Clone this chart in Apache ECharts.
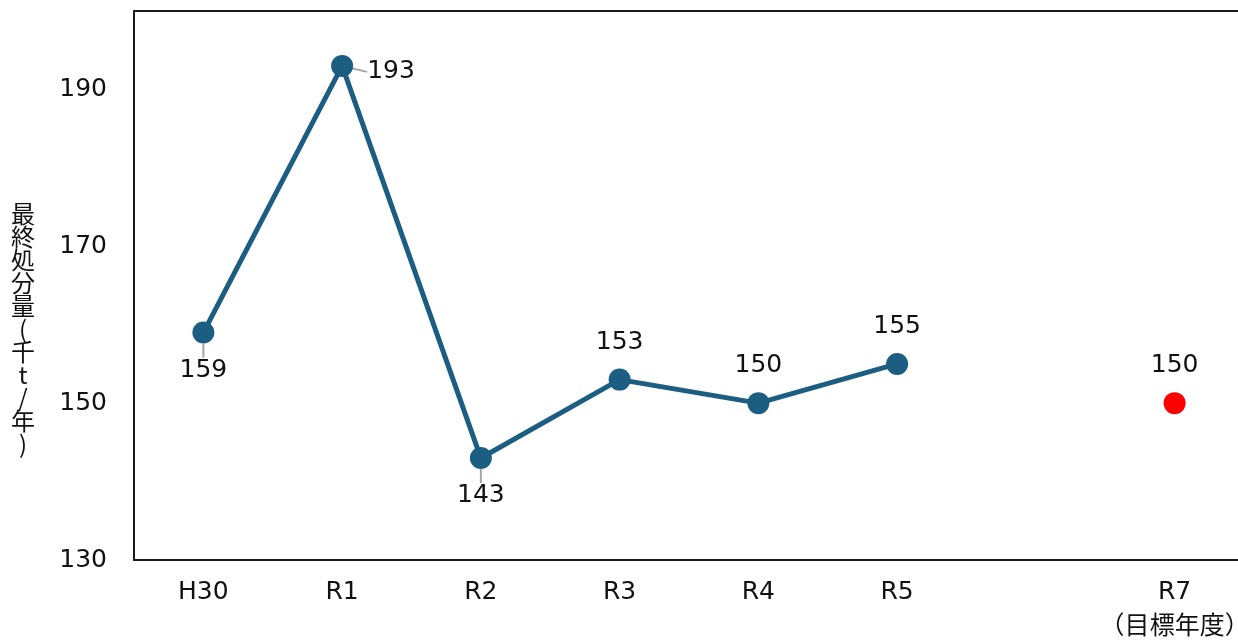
<!DOCTYPE html>
<html>
<head>
<meta charset="utf-8">
<script src="https://cdn.jsdelivr.net/npm/echarts@6/dist/echarts.min.js"></script>
<style>
  html, body { margin: 0; padding: 0; background: #fff; }
  #chart { width: 1238px; height: 641px; }
</style>
</head>
<body>
<div id="chart"></div>
<script>
// Years on the x axis; R6 is left empty so R7 sits two slots after R5
const categories = ['H30', 'R1', 'R2', 'R3', 'R4', 'R5', 'R6', 'R7\n（目標年度）'];
// Final disposal amount (thousand t / year)
const actualValues = [159, 193, 143, 153, 150, 155, null, null];
// Target for R7
const targetValues = [null, null, null, null, null, null, null, 150];
const yTicks = { min: 130, max: 200, interval: 20 };
const yName = '最終処分量(千t/年)';

const FONT = '"DejaVu Sans", "Noto Sans CJK JP", sans-serif';
const CJK_FONT = '"Noto Sans CJK JP", sans-serif';

// Label placement per point: below, right or above
const labelPlacement = ['bottom', 'right', 'bottom', 'top', 'top', 'top', 'top', 'top'];
// Points whose labels get a short leader line
const withLeader = [true, true, true, false, false, false, false, false];

const chart = echarts.init(document.getElementById('chart'), null, { renderer: 'canvas' });

chart.setOption({
  animation: false,
  backgroundColor: '#ffffff',
  grid: {
    left: 134, right: -6, top: 11, bottom: 81,
    show: false,
    outerBoundsMode: 'none',
    containLabel: false
  },
  graphic: [{
    type: 'text',
    x: 23,
    y: 202,
    style: {
      text: yName.split('').join('\n'),
      font: '24px ' + CJK_FONT,
      lineHeight: 23,
      fill: '#111',
      align: 'center',
      verticalAlign: 'top'
    }
  }],
  xAxis: [{
    type: 'category',
    data: categories,
    boundaryGap: true,
    axisLine: { show: true, lineStyle: { color: '#1a1a1a', width: 2 } },
    axisTick: { show: false },
    axisLabel: {
      interval: 0,
      margin: 15,
      color: '#111',
      fontSize: 25,
      fontFamily: FONT,
      lineHeight: 35,
      hideOverlap: false,
      formatter: v => (v === 'R6' ? '' : v)
    }
  }, {
    // top border of the plot frame
    type: 'category',
    position: 'top',
    data: categories,
    axisLine: { show: true, lineStyle: { color: '#1a1a1a', width: 2 } },
    axisTick: { show: false },
    axisLabel: { show: false }
  }],
  yAxis: {
    type: 'value',
    min: yTicks.min,
    max: yTicks.max,
    interval: yTicks.interval,
    splitLine: { show: false },
    axisLine: { show: true, lineStyle: { color: '#1a1a1a', width: 2 } },
    axisTick: { show: false },
    axisLabel: {
      showMaxLabel: false,
      margin: 27,
      color: '#111',
      fontSize: 25,
      fontFamily: FONT
    }
  },
  series: [
    {
      type: 'line',
      data: actualValues.map((v, i) => ({
        value: v,
        label: { position: labelPlacement[i] },
        labelLine: { show: withLeader[i] }
      })),
      symbol: 'circle',
      symbolSize: 22,
      connectNulls: false,
      lineStyle: { color: '#1b5e82', width: 5 },
      itemStyle: { color: '#1b5e82' },
      label: {
        show: true,
        distance: 14,
        color: '#111',
        fontSize: 25,
        fontFamily: FONT
      },
      labelLine: { lineStyle: { color: '#a6a6a6', width: 2 } },
      // leader runs from the marker centre straight towards the label
      labelLayout: function (p) {
        const i = p.dataIndex;
        if (!withLeader[i]) return {};
        const cx = p.rect.x + p.rect.width / 2;
        const cy = p.rect.y + p.rect.height / 2;
        const lr = p.labelRect;
        if (labelPlacement[i] === 'right') {
          const dy = 6;
          const ly = lr.y + lr.height / 2 + dy - 1;
          return { dy: dy, labelLinePoints: [[cx, cy], [cx + 6, ly], [lr.x - 6, ly]] };
        }
        return { labelLinePoints: [[cx, cy], [cx, (cy + lr.y) / 2], [cx, lr.y - 4]] };
      },
      z: 3
    },
    {
      type: 'line',
      data: targetValues,
      symbol: 'circle',
      symbolSize: 22,
      lineStyle: { width: 0 },
      itemStyle: { color: '#ff0000' },
      label: {
        show: true,
        position: 'top',
        distance: 14,
        color: '#111',
        fontSize: 25,
        fontFamily: FONT
      },
      z: 3
    }
  ]
});
</script>
</body>
</html>
